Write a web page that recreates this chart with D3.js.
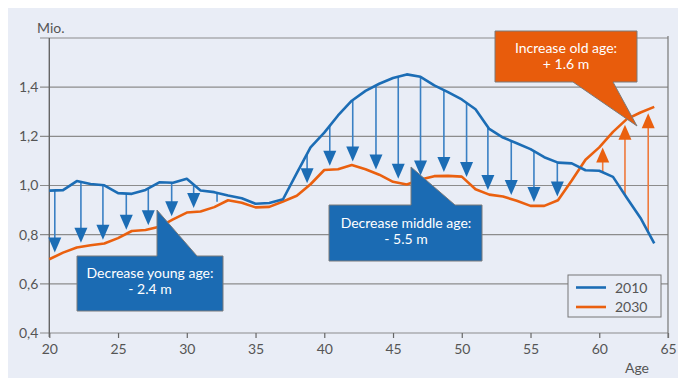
<!DOCTYPE html>
<html lang="en">
<head>
<meta charset="UTF-8">
<title>Population by age 2010 vs 2030</title>
<script src="https://d3js.org/d3.v7.min.js"></script>
<style>
body{margin:0;background:#fff}
svg{display:block}
.lbl{font-family:Lato,"Open Sans",sans-serif;font-size:14px;fill:#555}
.callout text{font-family:Lato,"Open Sans",sans-serif;font-size:14px;fill:#fff}
</style>
</head>
<body>
<div id="chart"></div>
<script>
// ages 20..64
var ages = [20,21,22,23,24,25,26,27,28,29,30,31,32,33,34,35,36,37,38,39,40,41,42,
            43,44,45,46,47,48,49,50,51,52,53,54,55,56,57,58,59,60,61,62,63,64];
// million persons
var pop2010 = [0.979,0.981,1.018,1.006,1.001,0.969,0.966,0.982,1.013,1.011,1.027,0.980,0.973,0.959,0.948,
               0.926,0.929,0.944,1.050,1.155,1.215,1.285,1.345,1.385,1.414,1.437,1.452,1.442,1.407,1.380,
               1.350,1.310,1.230,1.195,1.172,1.148,1.115,1.093,1.090,1.062,1.060,1.035,0.950,0.868,0.765];
var pop2030 = [0.700,0.727,0.748,0.757,0.764,0.786,0.815,0.819,0.832,0.862,0.890,0.894,0.912,0.940,0.930,
               0.911,0.913,0.935,0.958,1.005,1.063,1.066,1.083,1.066,1.044,1.015,1.004,1.024,1.038,1.039,
               1.036,0.985,0.963,0.955,0.938,0.917,0.917,0.940,1.020,1.105,1.155,1.218,1.270,1.297,1.320];
// ages where the change arrows stand
var arrowAges = [20.4,22.3,23.9,25.6,27.2,28.9,30.5,32.2,33.8,35.45,37.1,38.75,40.4,42.07,
                 43.76,45.38,47.0,48.7,50.35,51.9,53.6,55.25,56.95,58.6,60.25,61.87,63.56];
var yTicks = [0.4,0.6,0.8,1.0,1.2,1.4,1.6];
var xTicks = [20,25,30,35,40,45,50,55,60,65];
var seriesNames = ['2010','2030'];
var callouts = [
  {lines:['Increase old age:','+ 1.6 m'], kind:'up'},
  {lines:['Decrease young age:','- 2.4 m'], kind:'young'},
  {lines:['Decrease middle age:','- 5.5 m'], kind:'middle'}
];

var W = 678, H = 378;
var BLUE = '#1c6db5', BLUE_STEM = '#3a80c4', ORANGE = '#ea600f', ORANGE_STEM = '#ef7a3c';

var svg = d3.select('#chart').append('svg').attr('width', W).attr('height', H);
svg.append('rect').attr('x', 8).attr('y', 8).attr('width', W - 8).attr('height', H - 8).attr('fill', '#e9edf6');

var x = d3.scaleLinear().domain([20, 65]).range([49.3, 668]);
var y = d3.scaleLinear().domain([0.4, 1.6]).range([333, 38]);

// grid
svg.append('g').selectAll('line').data(yTicks).join('line')
  .attr('x1', 40).attr('x2', x(65)).attr('y1', function(d){return y(d);}).attr('y2', function(d){return y(d);})
  .attr('stroke', '#8c8c8c').attr('stroke-width', 1.2);

// axes
var yAxis = d3.axisLeft(y).tickValues(yTicks.slice(0, -1)).tickSize(0).tickPadding(11)
  .tickFormat(function(d){return d3.format('.1f')(d).replace('.', ',');});
var gy = svg.append('g').attr('transform', 'translate(' + x(20) + ',0)').call(yAxis);
gy.select('.domain').remove();
gy.selectAll('text').attr('class', 'lbl').attr('font-family', null).attr('font-size', null);

var xAxis = d3.axisBottom(x).tickValues(xTicks).tickSize(5).tickPadding(6);
var gx = svg.append('g').attr('transform', 'translate(0,' + y(0.4) + ')').call(xAxis);
gx.select('.domain').remove();
gx.selectAll('line').attr('stroke', '#666').attr('stroke-width', 1.2);
gx.selectAll('text').attr('class', 'lbl').attr('font-family', null).attr('font-size', null);

svg.append('line').attr('x1', x(20)).attr('x2', x(20)).attr('y1', y(1.6)).attr('y2', y(0.4) + 4)
  .attr('stroke', '#666').attr('stroke-width', 1.4);
svg.append('line').attr('x1', x(65)).attr('x2', x(65)).attr('y1', y(1.6) - 2).attr('y2', y(0.4) + 5)
  .attr('stroke', '#777').attr('stroke-width', 1.2);

svg.append('text').attr('class', 'lbl').attr('x', 37).attr('y', 33).text('Mio.');
svg.append('text').attr('class', 'lbl').attr('x', 637).attr('y', 373).attr('text-anchor', 'middle').text('Age');

// arrows
function valAt(arr, a) {
  var i = Math.min(Math.floor(a - ages[0]), ages.length - 2);
  var t = a - ages[i];
  return arr[i] + (arr[i + 1] - arr[i]) * t;
}
var ga = svg.append('g');
arrowAges.forEach(function(a) {
  var xb = x(a), y0 = y(valAt(pop2010, a)), y1 = y(valAt(pop2030, a));
  var gap = Math.abs(y1 - y0);
  if (gap < 5) return;
  var down = y1 > y0, dir = down ? 1 : -1;
  var stem = down ? BLUE_STEM : ORANGE_STEM, head = down ? BLUE : ORANGE;
  var tip = y1 - dir * 4;
  if (gap < 20) {
    ga.append('line').attr('x1', xb).attr('x2', xb).attr('y1', y0).attr('y2', tip)
      .attr('stroke', stem).attr('stroke-width', 1.6);
    return;
  }
  ga.append('line').attr('x1', xb).attr('x2', xb).attr('y1', y0).attr('y2', tip - dir * 12)
    .attr('stroke', stem).attr('stroke-width', 1.6);
  ga.append('path')
    .attr('d', 'M' + (xb - 6.5) + ',' + (tip - dir * 15) + 'L' + (xb + 6.5) + ',' + (tip - dir * 15) + 'L' + xb + ',' + tip + 'Z')
    .attr('fill', head);
});

// series lines
var line = d3.line().x(function(d, i){return x(ages[i]);}).y(function(d){return y(d);});
svg.append('path').datum(pop2030).attr('d', line).attr('fill', 'none').attr('stroke', ORANGE)
  .attr('stroke-width', 2.6).attr('stroke-linejoin', 'round');
svg.append('path').datum(pop2010).attr('d', line).attr('fill', 'none').attr('stroke', BLUE)
  .attr('stroke-width', 2.6).attr('stroke-linejoin', 'round');

// callouts (box + pointer in one outline)
function calloutPath(k) {
  if (k === 'up') return 'M495,31H637V82H613L637,126L573,82H495Z';
  if (k === 'young') return 'M77,256H157V210L197,256H223V311H77Z';
  return 'M329,205H411V167L455,205H482V261H329Z';
}
var centers = {up:[566, 53, 69], young:[150, 278, 294], middle:[406, 228, 244]};
var fills = {up:'#e85c0c', young:'#1b6bb3', middle:'#1b6bb3'};
var gc = svg.append('g').attr('class', 'callout');
callouts.forEach(function(c) {
  gc.append('path').attr('d', calloutPath(c.kind)).attr('fill', fills[c.kind])
    .attr('stroke', '#7a7a7a').attr('stroke-width', 1);
  var cc = centers[c.kind];
  c.lines.forEach(function(t, i) {
    gc.append('text').attr('x', cc[0]).attr('y', cc[1 + i]).attr('text-anchor', 'middle').text(t);
  });
});

// legend
var lg = svg.append('g').attr('transform', 'translate(568,275)');
lg.append('rect').attr('width', 93).attr('height', 42).attr('fill', '#e9edf6').attr('stroke', '#777').attr('stroke-width', 1);
seriesNames.forEach(function(n, i) {
  var yy = 12.5 + i * 19.5;
  lg.append('line').attr('x1', 8).attr('x2', 38).attr('y1', yy).attr('y2', yy)
    .attr('stroke', i === 0 ? BLUE : ORANGE).attr('stroke-width', 2.6);
  lg.append('text').attr('class', 'lbl').attr('x', 47).attr('y', yy + 5).text(n);
});
</script>
</body>
</html>
